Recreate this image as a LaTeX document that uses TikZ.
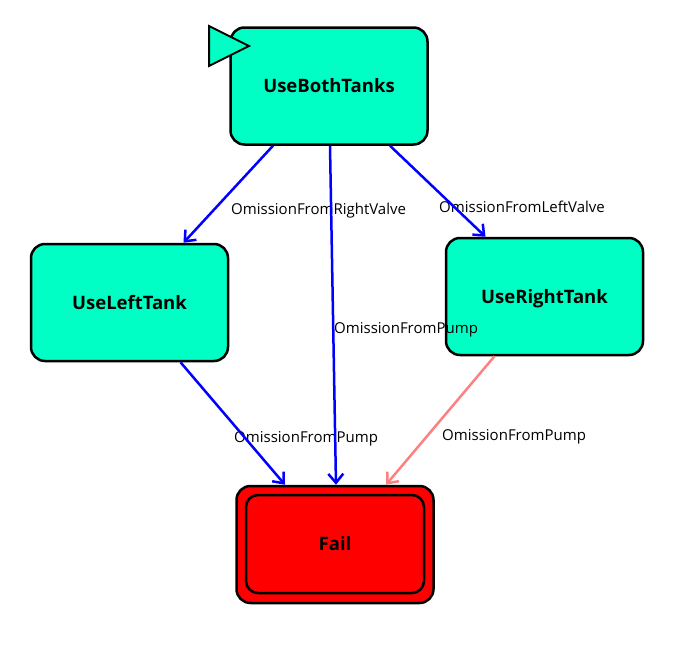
\documentclass[tikz,border=0pt]{standalone}
\usepackage{fontspec}
\setmainfont{Open Sans}
\usetikzlibrary{arrows.meta}
\definecolor{stfill}{RGB}{0,255,196}
\definecolor{pinkedge}{RGB}{255,128,128}
\begin{document}
\begin{tikzpicture}[x=1pt,y=-1pt,
  state/.style={draw=black,line width=2.5pt,rounded corners=14pt,fill=stfill,
    minimum width=197pt,minimum height=117pt,inner sep=0pt,
    text height=17pt,text depth=4pt,
    font=\fontsize{18.5}{22}\selectfont\bfseries},
  failouter/.style={draw=black,line width=2.5pt,rounded corners=14pt,fill=red,
    minimum width=197pt,minimum height=117pt,inner sep=0pt},
  failinner/.style={draw=black,line width=2.5pt,rounded corners=12pt,
    minimum width=178pt,minimum height=98pt,inner sep=0pt,
    text height=17pt,text depth=4pt,
    font=\fontsize{18.5}{22}\selectfont\bfseries},
  edge/.style={draw=blue,line width=2.5pt,-{Straight Barb[length=9pt,width=15pt,line width=2.5pt]}},
  pedge/.style={edge,draw=pinkedge},
  lbl/.style={anchor=west,inner sep=0pt,font=\fontsize{15}{18}\selectfont}]
\useasboundingbox (0,0) rectangle (681,651);
% nodes
\node[state] (ubt) at (329,86) {UseBothTanks};
\filldraw[draw=black,line width=2pt,fill=stfill,line join=miter] (209,26) -- (249,46) -- (209,66) -- cycle;
\node[state] (ult) at (129.5,302.5) {UseLeftTank};
\node[state] (urt) at (544.5,296.5) {UseRightTank};
\node[failouter] (failo) at (335,544.5) {};
\node[failinner] (fail) at (335,544) {Fail};
% labels
\node[lbl] (l1) at (231,211) {OmissionFromRightValve};
\node[lbl] (l2) at (334,330) {OmissionFromPump};
\node[lbl] (l3) at (439,207) {OmissionFromLeftValve};
\node[lbl] (l4) at (234,439) {OmissionFromPump};
\node[lbl] (l5) at (442,437) {OmissionFromPump};
% edges
\draw[edge] ([xshift=-56pt]ubt.south) -- ([xshift=54pt]ult.north);
\draw[edge] ([xshift=1pt]ubt.south) -- ([xshift=1pt]failo.north);
\draw[edge] ([xshift=61pt]ubt.south) -- ([xshift=-59pt]urt.north);
\draw[edge] ([xshift=51pt]ult.south) -- ([xshift=-50pt]failo.north);
\draw[pedge] ([xshift=-50pt]urt.south) -- ([xshift=51pt]failo.north);
\end{tikzpicture}
\end{document}
